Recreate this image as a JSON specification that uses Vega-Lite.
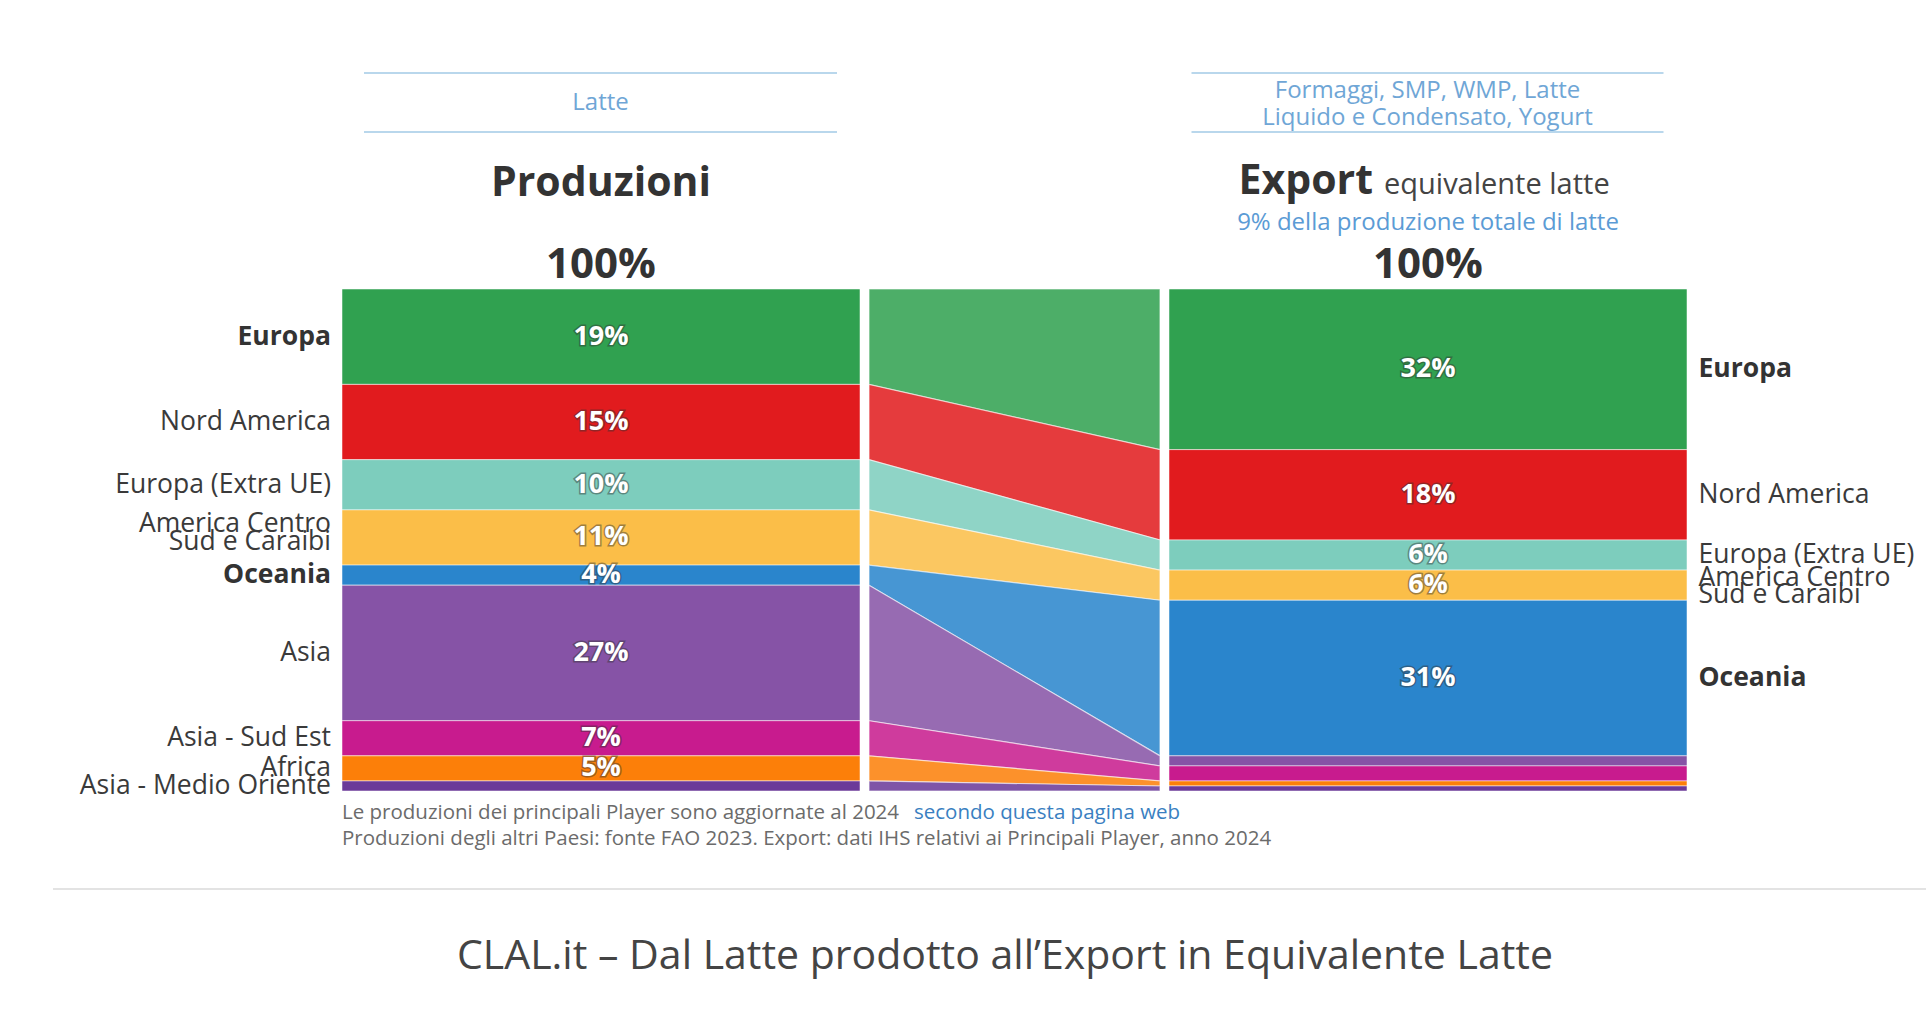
{
  "$schema": "https://vega.github.io/schema/vega-lite/v6.json",
  "background": "white",
  "padding": {"left": 52, "top": 72, "right": 0, "bottom": 12},
  "config": {"view": {"stroke": null}, "font": "Open Sans", "text": {"font": "Open Sans"}},
  "datasets": {
    "regions": [
      {"stage": "Produzioni", "region": "Europa", "order": 1, "pct": 0.19},
      {"stage": "Produzioni", "region": "Nord America", "order": 2, "pct": 0.15},
      {"stage": "Produzioni", "region": "Europa (Extra UE)", "order": 3, "pct": 0.10},
      {"stage": "Produzioni", "region": "America Centro\nSud e Caraibi", "order": 4, "pct": 0.11},
      {"stage": "Produzioni", "region": "Oceania", "order": 5, "pct": 0.04},
      {"stage": "Produzioni", "region": "Asia", "order": 6, "pct": 0.27},
      {"stage": "Produzioni", "region": "Asia - Sud Est", "order": 7, "pct": 0.07},
      {"stage": "Produzioni", "region": "Africa", "order": 8, "pct": 0.05},
      {"stage": "Produzioni", "region": "Asia - Medio Oriente", "order": 9, "pct": 0.02},
      {"stage": "Export", "region": "Europa", "order": 1, "pct": 0.32},
      {"stage": "Export", "region": "Nord America", "order": 2, "pct": 0.18},
      {"stage": "Export", "region": "Europa (Extra UE)", "order": 3, "pct": 0.06},
      {"stage": "Export", "region": "America Centro\nSud e Caraibi", "order": 4, "pct": 0.06},
      {"stage": "Export", "region": "Oceania", "order": 5, "pct": 0.31},
      {"stage": "Export", "region": "Asia", "order": 6, "pct": 0.02},
      {"stage": "Export", "region": "Asia - Sud Est", "order": 7, "pct": 0.03},
      {"stage": "Export", "region": "Africa", "order": 8, "pct": 0.01},
      {"stage": "Export", "region": "Asia - Medio Oriente", "order": 9, "pct": 0.01}
    ]
  },
  "title": {
    "text": "CLAL.it – Dal Latte prodotto all’Export in Equivalente Latte",
    "orient": "bottom", "anchor": "middle", "fontSize": 41, "font": "Open Sans",
    "fontWeight": "normal", "color": "#444444", "offset": 47, "dx": 15
  },
  "spacing": 0,
  "vconcat": [
    {
      "spacing": 9,
      "hconcat": [
        {"width": 280, "height": 207, "data": {"values": []}, "mark": "text"},
        {
          "spacing": 0, "center": true,
          "vconcat": [
            {
              "width": 473, "height": 59,
              "view": {"stroke": "#b9d7ec", "strokeWidth": 2, "strokeDash": [473, 59]},
              "data": {"values": [{"t": "Latte"}]},
              "mark": {"type": "text", "fontSize": 24, "fill": "#6fa6d6"},
              "encoding": {"text": {"field": "t", "type": "nominal"}}
            },
            {
              "width": 518, "height": 148,
              "data": {"values": [{"a": "Produzioni", "b": "100%"}]},
              "layer": [
                {"mark": {"type": "text", "fontSize": 41, "fontWeight": "bold", "fill": "#333333", "dy": -23.5},
                 "encoding": {"text": {"field": "a", "type": "nominal"}}},
                {"mark": {"type": "text", "fontSize": 42, "fontWeight": "bold", "fill": "#333333", "dy": 57.5},
                 "encoding": {"text": {"field": "b", "type": "nominal"}}}
              ]
            }
          ]
        },
        {"width": 291, "height": 207, "data": {"values": []}, "mark": "text"},
        {
          "spacing": 0, "center": true,
          "vconcat": [
            {
              "width": 472, "height": 59,
              "view": {"stroke": "#b9d7ec", "strokeWidth": 2, "strokeDash": [472, 59]},
              "data": {"values": [{"t": "Formaggi, SMP, WMP, Latte\nLiquido e Condensato, Yogurt"}]},
              "mark": {"type": "text", "fontSize": 24, "fill": "#6fa6d6", "lineBreak": "\n", "lineHeight": 27, "dy": -12},
              "encoding": {"text": {"field": "t", "type": "nominal"}}
            },
            {
              "width": 518, "height": 148,
              "data": {"values": [{"a": "Export", "b": "equivalente latte", "c": "9% della produzione totale di latte", "d": "100%"}]},
              "layer": [
                {"mark": {"type": "text", "fontSize": 41, "fontWeight": "bold", "fill": "#333333", "align": "right", "baseline": "alphabetic", "dx": -55, "dy": -13.5},
                 "encoding": {"text": {"field": "a", "type": "nominal"}}},
                {"mark": {"type": "text", "fontSize": 29, "fill": "#444444", "align": "left", "baseline": "alphabetic", "dx": -44, "dy": -13.5},
                 "encoding": {"text": {"field": "b", "type": "nominal"}}},
                {"mark": {"type": "text", "fontSize": 24, "fill": "#5b9bd5", "dy": 15.5},
                 "encoding": {"text": {"field": "c", "type": "nominal"}}},
                {"mark": {"type": "text", "fontSize": 42, "fontWeight": "bold", "fill": "#333333", "dy": 57.5},
                 "encoding": {"text": {"field": "d", "type": "nominal"}}}
              ]
            }
          ]
        }
      ]
    },
    {
      "spacing": 9,
      "bounds": "flush",
      "hconcat": [
        {
          "width": 280, "height": 502,
          "data": {"name": "regions"},
          "transform": [{"filter": "datum.stage === 'Produzioni'"}],
          "encoding": {
            "y": {"field": "pct", "type": "quantitative", "stack": "zero", "bandPosition": 0.5, "scale": {"domain": [0, 1], "reverse": true, "nice": false}, "axis": null},
            "detail": {"field": "region", "type": "nominal"},
            "order": {"field": "order", "type": "quantitative"}
          },
          "layer": [
            {
              "mark": {"type": "text", "align": "right", "dx": 138, "fontSize": 26.5, "fill": "#3a3a3a"},
              "encoding": {"text": {"condition": {"test": "datum.region !== 'Europa' && datum.region !== 'Oceania' && indexof(datum.region, '\\n') < 0", "field": "region", "type": "nominal"}, "value": ""}}
            },
            {
              "mark": {"type": "text", "align": "right", "dx": 138, "fontSize": 26.5, "fontWeight": "bold", "fill": "#333333"},
              "encoding": {"text": {"condition": {"test": "datum.region === 'Europa' || datum.region === 'Oceania'", "field": "region", "type": "nominal"}, "value": ""}}
            },
            {
              "mark": {"type": "text", "align": "right", "dx": 138, "dy": -13, "fontSize": 26.5, "fill": "#3a3a3a", "lineBreak": "\n", "lineHeight": 18},
              "encoding": {"text": {"condition": {"test": "indexof(datum.region, '\\n') >= 0", "field": "region", "type": "nominal"}, "value": ""}}
            }
          ]
        },
        {
          "width": 518, "height": 502,
          "data": {"name": "regions"},
          "transform": [{"filter": "datum.stage === 'Produzioni'"}],
          "encoding": {
            "x": {"field": "stage", "type": "nominal", "scale": {"paddingInner": 0, "paddingOuter": 0}, "axis": null},
            "order": {"field": "order", "type": "quantitative"}
          },
          "layer": [
            {
              "mark": {"type": "bar", "stroke": "white", "strokeWidth": 1, "strokeOpacity": 0.5},
              "encoding": {
                "y": {"field": "pct", "type": "quantitative", "stack": "zero", "scale": {"domain": [0, 1], "reverse": true, "nice": false}, "axis": null},
                "color": {"field": "region", "type": "nominal", "legend": null,
                  "scale": {"domain": ["Europa", "Nord America", "Europa (Extra UE)", "America Centro\nSud e Caraibi", "Oceania", "Asia", "Asia - Sud Est", "Africa", "Asia - Medio Oriente"],
                            "range": ["#30a150", "#e11b1e", "#7dcdbd", "#fbbe48", "#2a85cc", "#8653a6", "#c81b8e", "#fc7f09", "#6b3a99"]}}
              }
            },
            {
              "transform": [{"filter": "datum.pct >= 0.03"}],
              "mark": {"type": "text", "fontSize": 27, "fontWeight": "bold", "fill": "#333333", "stroke": "#333333", "strokeWidth": 3, "opacity": 0.45},
              "encoding": {
                "y": {"field": "pct", "type": "quantitative", "stack": "zero", "bandPosition": 0.5, "scale": {"domain": [0, 1], "reverse": true, "nice": false}, "axis": null},
                "detail": {"field": "region", "type": "nominal"},
                "text": {"field": "pct", "type": "quantitative", "format": ".0%"}
              }
            },
            {
              "transform": [{"filter": "datum.pct >= 0.03"}],
              "mark": {"type": "text", "fontSize": 27, "fontWeight": "bold", "fill": "white"},
              "encoding": {
                "y": {"field": "pct", "type": "quantitative", "stack": "zero", "bandPosition": 0.5, "scale": {"domain": [0, 1], "reverse": true, "nice": false}, "axis": null},
                "detail": {"field": "region", "type": "nominal"},
                "text": {"field": "pct", "type": "quantitative", "format": ".0%"}
              }
            }
          ]
        },
        {
          "width": 291, "height": 502,
          "data": {"name": "regions"},
          "mark": {"type": "area", "opacity": 0.86, "stroke": "white", "strokeWidth": 1.2, "strokeOpacity": 0.6, "interpolate": "linear"},
          "encoding": {
            "x": {"field": "stage", "type": "ordinal", "scale": {"type": "point", "domain": ["Produzioni", "Export"], "padding": 0}, "axis": null},
            "y": {"field": "pct", "type": "quantitative", "stack": "zero", "scale": {"domain": [0, 1], "reverse": true, "nice": false}, "axis": null},
            "order": {"field": "order", "type": "quantitative"},
            "color": {"field": "region", "type": "nominal", "legend": null,
              "scale": {"domain": ["Europa", "Nord America", "Europa (Extra UE)", "America Centro\nSud e Caraibi", "Oceania", "Asia", "Asia - Sud Est", "Africa", "Asia - Medio Oriente"],
                        "range": ["#30a150", "#e11b1e", "#7dcdbd", "#fbbe48", "#2a85cc", "#8653a6", "#c81b8e", "#fc7f09", "#6b3a99"]}}
          }
        },
        {
          "width": 518, "height": 502,
          "data": {"name": "regions"},
          "transform": [{"filter": "datum.stage === 'Export'"}],
          "encoding": {
            "x": {"field": "stage", "type": "nominal", "scale": {"paddingInner": 0, "paddingOuter": 0}, "axis": null},
            "order": {"field": "order", "type": "quantitative"}
          },
          "layer": [
            {
              "mark": {"type": "bar", "stroke": "white", "strokeWidth": 1, "strokeOpacity": 0.5},
              "encoding": {
                "y": {"field": "pct", "type": "quantitative", "stack": "zero", "scale": {"domain": [0, 1], "reverse": true, "nice": false}, "axis": null},
                "color": {"field": "region", "type": "nominal", "legend": null,
                  "scale": {"domain": ["Europa", "Nord America", "Europa (Extra UE)", "America Centro\nSud e Caraibi", "Oceania", "Asia", "Asia - Sud Est", "Africa", "Asia - Medio Oriente"],
                            "range": ["#30a150", "#e11b1e", "#7dcdbd", "#fbbe48", "#2a85cc", "#8653a6", "#c81b8e", "#fc7f09", "#6b3a99"]}}
              }
            },
            {
              "transform": [{"filter": "datum.pct >= 0.05"}],
              "mark": {"type": "text", "fontSize": 27, "fontWeight": "bold", "fill": "#333333", "stroke": "#333333", "strokeWidth": 3, "opacity": 0.45},
              "encoding": {
                "y": {"field": "pct", "type": "quantitative", "stack": "zero", "bandPosition": 0.5, "scale": {"domain": [0, 1], "reverse": true, "nice": false}, "axis": null},
                "detail": {"field": "region", "type": "nominal"},
                "text": {"field": "pct", "type": "quantitative", "format": ".0%"}
              }
            },
            {
              "transform": [{"filter": "datum.pct >= 0.05"}],
              "mark": {"type": "text", "fontSize": 27, "fontWeight": "bold", "fill": "white"},
              "encoding": {
                "y": {"field": "pct", "type": "quantitative", "stack": "zero", "bandPosition": 0.5, "scale": {"domain": [0, 1], "reverse": true, "nice": false}, "axis": null},
                "detail": {"field": "region", "type": "nominal"},
                "text": {"field": "pct", "type": "quantitative", "format": ".0%"}
              }
            }
          ]
        },
        {
          "width": 231, "height": 502,
          "data": {"name": "regions"},
          "transform": [{"filter": "datum.stage === 'Export'"}],
          "encoding": {
            "y": {"field": "pct", "type": "quantitative", "stack": "zero", "bandPosition": 0.5, "scale": {"domain": [0, 1], "reverse": true, "nice": false}, "axis": null},
            "detail": {"field": "region", "type": "nominal"},
            "order": {"field": "order", "type": "quantitative"}
          },
          "layer": [
            {
              "mark": {"type": "text", "align": "left", "dx": -113, "fontSize": 26.5, "fill": "#3a3a3a"},
              "encoding": {"text": {"condition": {"test": "datum.pct >= 0.05 && datum.region !== 'Europa' && datum.region !== 'Oceania' && indexof(datum.region, '\\n') < 0", "field": "region", "type": "nominal"}, "value": ""}}
            },
            {
              "mark": {"type": "text", "align": "left", "dx": -113, "fontSize": 26.5, "fontWeight": "bold", "fill": "#333333"},
              "encoding": {"text": {"condition": {"test": "datum.region === 'Europa' || datum.region === 'Oceania'", "field": "region", "type": "nominal"}, "value": ""}}
            },
            {
              "mark": {"type": "text", "align": "left", "dx": -113, "dy": -7, "fontSize": 26.5, "fill": "#3a3a3a", "lineBreak": "\n", "lineHeight": 17},
              "encoding": {"text": {"condition": {"test": "indexof(datum.region, '\\n') >= 0", "field": "region", "type": "nominal"}, "value": ""}}
            }
          ]
        }
      ]
    },
    {
      "width": 1874, "height": 86,
      "view": {"stroke": "#e3e3e3", "strokeWidth": 2, "strokeDash": [0, 1960, 1874, 86]},
      "data": {"values": [{"a": "Le produzioni dei principali Player sono aggiornate al 2024", "b": "secondo questa pagina web", "c": "Produzioni degli altri Paesi: fonte FAO 2023. Export: dati IHS relativi ai Principali Player, anno 2024"}]},
      "layer": [
        {"mark": {"type": "text", "align": "left", "fontSize": 20.5, "fill": "#6b6b6b", "dx": -648, "dy": -33},
         "encoding": {"text": {"field": "a", "type": "nominal"}}},
        {"mark": {"type": "text", "align": "left", "fontSize": 20.5, "fill": "#3a7fc1", "dx": -76, "dy": -33},
         "encoding": {"text": {"field": "b", "type": "nominal"}}},
        {"mark": {"type": "text", "align": "left", "fontSize": 20.5, "fill": "#6b6b6b", "dx": -648, "dy": -7},
         "encoding": {"text": {"field": "c", "type": "nominal"}}}
      ]
    }
  ]
}
